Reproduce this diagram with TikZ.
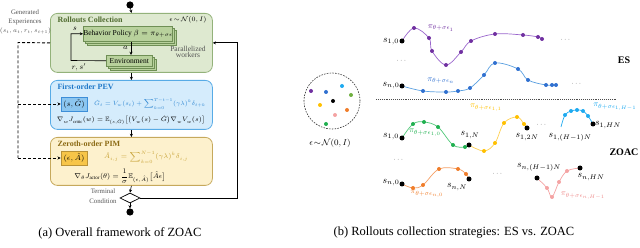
\RequirePackage{fix-cm}
\documentclass[tikz,border=0pt]{standalone}
\usepackage{amsmath,amssymb}
\usepackage{fontspec}
\setmainfont{Liberation Serif}
\usetikzlibrary{arrows.meta,shapes.geometric,calc}
\newcommand\setfs[1]{\fontsize{#1}{#1}\selectfont}
\definecolor{gfill}{HTML}{DEE9D0}
\definecolor{gline}{HTML}{93B27A}
\definecolor{gin}{HTML}{B8D19C}
\definecolor{ginline}{HTML}{6F8F55}
\definecolor{gtitle}{HTML}{4F6B2F}
\definecolor{bfill}{HTML}{D5ECFC}
\definecolor{bline}{HTML}{57ABE6}
\definecolor{bin}{HTML}{8CC6F0}
\definecolor{binline}{HTML}{3D8ED8}
\definecolor{btitle}{HTML}{1F78C8}
\definecolor{bform}{HTML}{2E86D2}
\definecolor{yfill}{HTML}{FDF1CD}
\definecolor{yline}{HTML}{C6A95C}
\definecolor{yin}{HTML}{F7C548}
\definecolor{yinline}{HTML}{B99236}
\definecolor{ytitle}{HTML}{8B6A14}
\definecolor{yform}{HTML}{C9A43A}
\definecolor{txtgray}{HTML}{555555}
\definecolor{cpurple}{HTML}{7030A0}
\definecolor{cpurplel}{HTML}{9A66CC}
\definecolor{cblue}{HTML}{3070D0}
\definecolor{cbluel}{HTML}{5BA0E0}
\definecolor{cgreen}{HTML}{20B050}
\definecolor{cgreenl}{HTML}{50C878}
\definecolor{cyellow}{HTML}{FFC000}
\definecolor{cyellowl}{HTML}{FFD050}
\definecolor{clblue}{HTML}{1EAAF0}
\definecolor{corange}{HTML}{F07D2A}
\definecolor{corangel}{HTML}{F5A066}
\definecolor{cpink}{HTML}{F4A3A3}
\definecolor{cpinkt}{HTML}{EE8A8A}
\definecolor{cgreen2}{HTML}{70B040}
\begin{document}
\begin{tikzpicture}[x=1pt,y=-1pt,
  panel/.style={draw, rounded corners=7pt, line width=0.8pt, anchor=north west, minimum width=162pt},
  ptitle/.style={anchor=west, font=\bfseries\setfs{8}},
  inbox/.style={draw, line width=0.6pt, inner sep=0pt},
  arr/.style={-{Stealth[length=3.2pt,width=3pt]}, line width=0.6pt},
  dsh/.style={dash pattern=on 3pt off 2pt, line width=0.9pt},
  form/.style={inner sep=0pt},
  slab/.style={font=\setfs{9.5}, inner sep=0pt},
  pilab/.style={font=\setfs{8}, inner sep=0pt},
  gtxt/.style={font=\setfs{6.8}, text=txtgray, align=center, inner sep=0pt},
  dotsl/.style={font=\setfs{7}, text=txtgray, inner sep=0pt}]
\useasboundingbox (0,0) rectangle (640,248);

% ---------------- left panel ----------------
\fill (130,5) circle (3.6pt);
\coordinate (st) at (130,5);

\node[panel, fill=gfill, draw=gline, minimum height=59pt] (rc) at (50,13) {};
\node[ptitle, text=gtitle] (rct) at (54,19.5) {Rollouts Collection};
\node[font=\setfs{6.5}, inner sep=0pt] (eps) at (188,19.5) {$\epsilon\!\sim\!\mathcal{N}(0,I)$};

\foreach \d in {4,2}
  \filldraw[fill=gin, draw=ginline, line width=0.5pt] (83+\d,26+\d) rectangle (172+\d,41+\d);
\node[inbox, fill=gin, draw=ginline, minimum width=89pt, minimum height=15pt, anchor=north west, font=\setfs{7.5}] (bp) at (83,26) {Behavior Policy $\beta=\pi_{\theta+\sigma\epsilon}$};

\foreach \d in {4,2}
  \filldraw[fill=gin, draw=ginline, line width=0.5pt] (106+\d,55+\d) rectangle (152+\d,66+\d);
\node[inbox, fill=gin, draw=ginline, minimum width=46pt, minimum height=11pt, anchor=north west, font=\setfs{7.5}] (env) at (106,55) {Environment};

\draw[arr] ([xshift=3pt]bp.south) -- ([xshift=3pt]bp.south |- env.north);
\node[font=\setfs{7.5}, anchor=east, inner sep=0pt] (alab) at (128,47.5) {$a$};
\draw[arr] (env.west) -- (71,60.5) |- (bp.west);
\node[font=\setfs{7.5}, inner sep=0pt] (slabl) at (75,28.5) {$s$};
\node[font=\setfs{7.5}, inner sep=0pt] (rslab) at (79,67) {$r,s'$};
\node[font=\setfs{7.5}, align=center, inner sep=0pt, text=txtgray] (pw) at (188,51.5) {Parallelized\\[-1.5pt]workers};

\node[gtxt] (ge) at (25,12) {Generated};
\node[gtxt] (ge2) at (25,21.5) {Experiences};
\node[gtxt, font=\setfs{6.2}] (ge3) at (25.5,31) {$(s_t,a_t,r_t,s_{t+1})$};

\node[panel, fill=bfill, draw=bline, minimum height=49pt] (pev) at (50,80) {};
\node[ptitle, text=btitle] (pevt) at (54,87) {First-order PEV};
\node[inbox, fill=bin, draw=binline, minimum width=26pt, minimum height=14pt, font=\setfs{7.5}] (sg) at (74,104) {$(s,\hat G)$};
\node[form, text=bform, font=\setfs{6.1}, anchor=west] (f1) at (94,104) {$\hat G_t = V_w(s_t) + \displaystyle\sum\nolimits_{k=0}^{T-t-1}(\gamma\lambda)^k\delta_{t+k}$};
\node[form, font=\setfs{6.4}] (f2) at (131,120.5) {$\nabla_w J_{\mathrm{critic}}(w) = \mathbb{E}_{(s,\hat G)}\big[\big(V_w(s)-\hat G\big)\nabla_w V_w(s)\big]$};

\node[panel, fill=yfill, draw=yline, minimum height=48pt] (pim) at (50,137) {};
\node[ptitle, text=ytitle] (pimt) at (54,143.5) {Zeroth-order PIM};
\node[inbox, fill=yin, draw=yinline, minimum width=26pt, minimum height=14pt, font=\setfs{7.5}] (ea) at (74,158) {$(\epsilon,\hat A)$};
\node[form, text=yform, font=\setfs{6.8}] (f3) at (146,157) {$\hat A_{i,j} = \displaystyle\sum\nolimits_{k=0}^{N-1}(\gamma\lambda)^k\delta_{i,j}$};
\node[form, font=\setfs{7}] (f4) at (120,176.5) {$\nabla_\theta J_{\mathrm{actor}}(\theta) = \dfrac{1}{\sigma}\mathbb{E}_{(\epsilon,\hat A)}\big[\hat A\epsilon\big]$};

\node[diamond, draw, fill=white, line width=0.7pt, minimum width=20pt, minimum height=10pt, inner sep=0pt] (tc) at (130,198) {};
\node[gtxt] (tcl) at (103,191.5) {Terminal};
\node[gtxt] (tcl2) at (103,201.5) {Condition};
\fill (130,212) circle (3.6pt);
\coordinate (en) at (130,208.4);

\draw[arr] (st) -- (rc.north);
\draw[arr] (rc.south) -- (pev.north);
\draw[arr] (pev.south) -- (pim.north);
\draw[arr] (pim.south) -- (tc.north);
\draw[arr] (tc.south) -- (en);
\draw[arr, line width=0.8pt] (tc.east) -- (237,198) |- (rc.east);

\draw[dsh] (rc.west) -- (18,42.5) -- (18,158);
\draw[dsh, -{Stealth[length=3.2pt,width=3pt]}] (18,104) -- (sg.west);
\draw[dsh, -{Stealth[length=3.2pt,width=3pt]}] (18,158) -- (ea.west);

% ---------------- right panel ----------------
\draw[dash pattern=on 1.6pt off 1.2pt, line width=0.6pt, black!80] (332,101) circle (28pt);
\foreach \x/\y/\c in {311/91/cpurple, 326/92/cblue, 342/86/clblue, 351/95/cgreen2, 333/101/black, 320/105/cyellow, 347/110/corange, 335/115/cpink, 326/124/cgreen}
  \fill[\c] (\x,\y) circle (2pt);
\node[font=\setfs{8.5}, inner sep=0pt] (epsl) at (330,143) {$\epsilon\!\sim\!\mathcal{N}(0,I)$};

% ES
\draw[cpurplel, line width=0.7pt] plot[smooth, tension=0.6] coordinates {(402,41) (414,28) (429,38) (432,51) (446,65) (461,52) (471,41) (495,34) (523,35) (538,37) (542,39)};
\foreach \x/\y in {414/28, 429/38, 432/51, 446/65, 461/52, 471/41, 495/34, 523/35, 538/37, 542/39}
  \fill[cpurple] (\x,\y) circle (2pt);
\draw[cbluel, line width=0.7pt] plot[smooth, tension=0.6] coordinates {(402,86) (423,91) (446,92) (458,91) (470,88) (484,75) (495,63) (518,69) (528,80) (546,85) (556,85)};
\foreach \x/\y in {423/91, 446/92, 458/91, 470/88, 484/75, 495/63, 518/69, 528/80, 546/85, 552/85, 556/85}
  \fill[cblue] (\x,\y) circle (2pt);
\fill (402,41) circle (2.5pt);
\fill (402,86) circle (2.5pt);
\node[slab] (es10) at (391,42) {$s_{1,0}$};
\node[slab] (esn0) at (391,86) {$s_{n,0}$};
\node[pilab, text=cpurple] (pi1) at (441,28) {$\pi_{\theta+\sigma\epsilon_1}$};
\node[pilab, text=cblue] (pin) at (441,81) {$\pi_{\theta+\sigma\epsilon_n}$};
\node[dotsl] (d1) at (566,40) {$\cdots$};
\node[dotsl] (d2) at (402,61) {$\cdots$};
\node[dotsl] (d3) at (577,84) {$\cdots$};
\node[font=\bfseries\setfs{10}, inner sep=0pt] (es) at (624,60) {ES};
\draw[densely dotted, line width=0.9pt, black!70] (376,99) -- (616,99);

% ZOAC
\draw[cgreenl, line width=0.7pt] plot[smooth, tension=0.6] coordinates {(402,138) (413,124) (424,122) (438,127) (453,145) (465,147) (469,145)};
\foreach \x/\y in {413/124, 424/122, 438/127, 453/145, 465/147}
  \fill[cgreen] (\x,\y) circle (2pt);
\draw[cyellowl, line width=0.7pt] plot[smooth, tension=0.6] coordinates {(469,145) (484,151) (495,143) (504,123) (517,117) (524,124) (527,128)};
\foreach \x/\y in {484/151, 495/143, 504/123, 517/117, 524/124}
  \fill[cyellow] (\x,\y) circle (2pt);
\draw[clblue, line width=0.7pt] plot[smooth, tension=0.6] coordinates {(561,127) (565,115) (571,111) (577,110) (583,111) (588,116) (593,124)};
\foreach \x/\y in {565/115, 571/111, 577/110, 583/111, 588/116}
  \fill[clblue] (\x,\y) circle (2pt);
\draw[corangel, line width=0.7pt] plot[smooth, tension=0.6] coordinates {(402,184) (413,188) (423,185) (439,169) (458,169) (466,174) (469,179)};
\foreach \x/\y in {413/188, 423/185, 439/169, 458/169, 466/174}
  \fill[corange] (\x,\y) circle (2pt);
\draw[cpink, line width=0.7pt] plot[smooth, tension=0.6] coordinates {(537,178) (547,188) (552,197) (559,182) (567,171) (580,168)};
\foreach \x/\y in {547/188, 552/197, 559/182, 567/171}
  \fill[cpink] (\x,\y) circle (2pt);
\foreach \x/\y in {402/138, 469/145, 527/128, 593/124, 402/184, 469/179, 537/178, 580/168}
  \fill (\x,\y) circle (2.5pt);

\node[slab] (z10) at (391,137) {$s_{1,0}$};
\node[slab] (z1n) at (470,135) {$s_{1,N}$};
\node[slab] (z12n) at (527,137) {$s_{1,2N}$};
\node[slab] (z1h1) at (570,137) {$s_{1,(H-1)N}$};
\node[slab] (z1hn) at (608,125) {$s_{1,HN}$};
\node[slab] (zn0) at (391,183) {$s_{n,0}$};
\node[slab] (znn) at (457,187) {$s_{n,N}$};
\node[slab] (znh1) at (539,167) {$s_{n,(H-1)N}$};
\node[slab] (znhn) at (591,177) {$s_{n,HN}$};
\node[pilab, text=cgreen] (pg) at (425,133) {$\pi_{\theta+\sigma\epsilon_{1,0}}$};
\node[pilab, text=cyellow] (py) at (486,108) {$\pi_{\theta+\sigma\epsilon_{1,1}}$};
\node[pilab, text=clblue] (plb) at (615,107) {$\pi_{\theta+\sigma\epsilon_{1,H-1}}$};
\node[pilab, text=corange] (po) at (427,194) {$\pi_{\theta+\sigma\epsilon_{n,0}}$};
\node[pilab, text=cpinkt] (pp) at (583,196) {$\pi_{\theta+\sigma\epsilon_{n,H-1}}$};
\node[dotsl] (d4) at (542,125) {$\cdots$};
\node[dotsl] (d5) at (399,160) {$\cdots$};
\node[dotsl] (d6) at (498,174) {$\cdots$};
\node[font=\bfseries\setfs{10}, inner sep=0pt] (zoac) at (624,152) {ZOAC};

% captions
\node[font=\setfs{12.5}, inner sep=0pt] (capa) at (120,233) {(a) Overall framework of ZOAC};
\node[font=\setfs{12.5}, inner sep=0pt] (capb) at (454,233) {(b) Rollouts collection strategies: ES vs. ZOAC};
\end{tikzpicture}
\end{document}
